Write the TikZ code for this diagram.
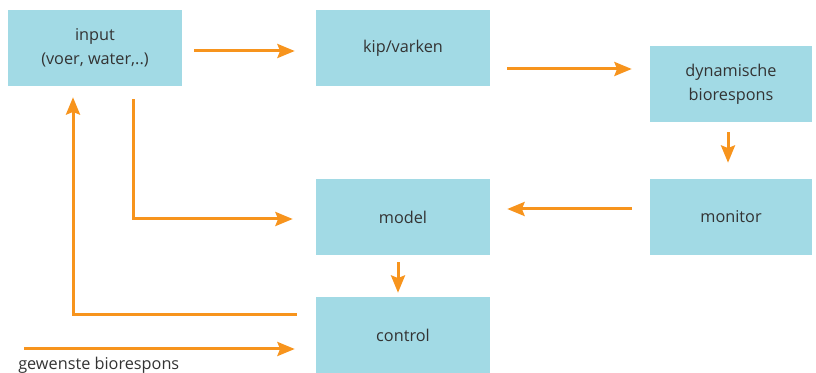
\documentclass[tikz,border=0pt]{standalone}
\usepackage{fontspec}
\setmainfont{Open Sans}
\usetikzlibrary{arrows.meta}
\definecolor{boxblue}{HTML}{A2DAE5}
\definecolor{arrorange}{HTML}{F7941D}
\definecolor{txt}{HTML}{333333}
\tikzset{
  blk/.style={rectangle, fill=boxblue, draw=none, minimum width=130.5pt, minimum height=57pt,
    align=center, text=txt, font=\fontsize{12.2}{18}\selectfont, inner sep=0pt},
  narrowblk/.style={blk, minimum width=121.5pt},
  arr/.style={draw=arrorange, line width=2.25pt, -{Stealth[length=13pt,width=10.5pt,inset=2pt]}},
}
\begin{document}
\begin{tikzpicture}[x=0.75pt,y=-0.75pt]
\useasboundingbox (0,0) rectangle (816,373);
\node[blk] (input) at (95,48) {input\\(voer, water,..)};
\node[blk] (kip) at (403,48) {kip/varken};
\node[narrowblk] (dyn) at (731,84) {dynamische\\biorespons};
\node[narrowblk] (monitor) at (731,217) {monitor};
\node[blk] (model) at (403,217) {model};
\node[blk] (control) at (403,335) {control};
\coordinate (g) at (24,349);
\node[anchor=base west, text=txt, font=\fontsize{12.2}{14}\selectfont, inner sep=0pt] (glabel) at (18,369) {gewenste biorespons};

\draw[arr] ([xshift=9pt,yshift=-2.25pt]input.east) -- ([xshift=-15.75pt,yshift=-2.25pt]kip.west);
\draw[arr] ([xshift=12.75pt,yshift=-15.75pt]kip.east) -- ([xshift=-13.5pt,yshift=11.25pt]dyn.west);
\draw[arr] ([xshift=-2.25pt,yshift=-7.5pt]dyn.south) -- ([xshift=-2.25pt,yshift=12pt]monitor.north);
\draw[arr] ([xshift=-13.5pt,yshift=6pt]monitor.west) -- ([xshift=12.75pt,yshift=6pt]model.east);
\draw[arr] ([xshift=28.5pt,yshift=-9.75pt]input.south) |- ([xshift=-17.25pt,yshift=-1.5pt]model.west);
\draw[arr] ([xshift=-3.75pt,yshift=-5.25pt]model.south) -- ([xshift=-3.75pt,yshift=3pt]control.north);
\draw[arr] ([xshift=-14.25pt,yshift=15pt]control.west) -| ([xshift=-16.5pt,yshift=-8.25pt]input.south);
\draw[arr] (g) -- ([xshift=-15.75pt,yshift=-10.5pt]control.west);
\end{tikzpicture}
\end{document}
